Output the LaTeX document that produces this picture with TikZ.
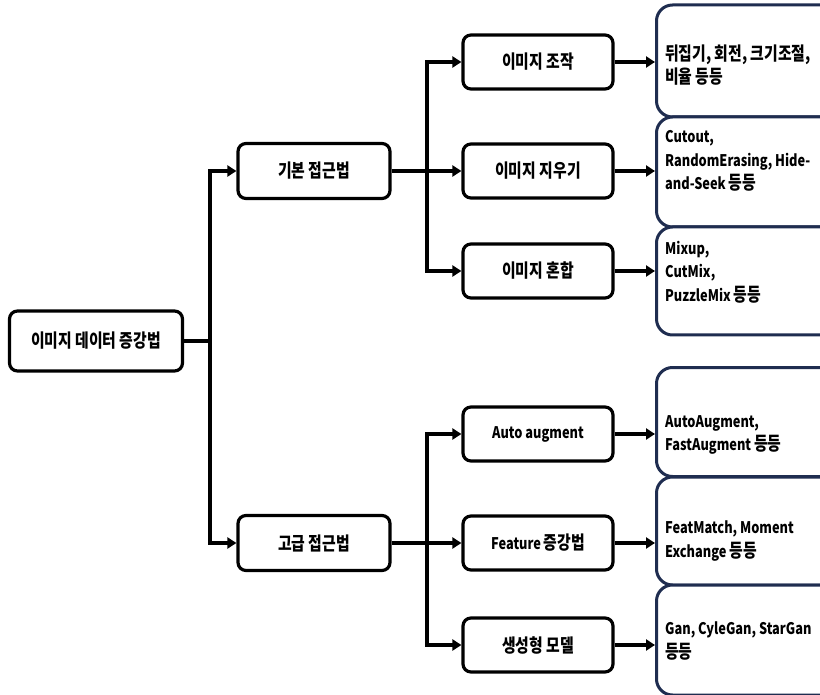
\documentclass[tikz,border=0pt]{standalone}
\usepackage{fontspec}
\setmainfont{Noto Sans CJK KR}[FakeStretch=0.8]
\newfontfamily\krfont{Noto Sans CJK KR}[FakeStretch=0.8,Scale=1.16]
\newcommand{\K}[1]{{\krfont\bfseries #1}}
\usetikzlibrary{arrows.meta}
\definecolor{navy}{RGB}{31,45,80}
\begin{document}
\begin{tikzpicture}[x=1pt,y=-1pt,
  box/.style={draw=black,line width=3.2pt,rounded corners=8pt,fill=white,font=\bfseries\fontsize{16}{20}\selectfont,inner sep=0pt},
  midbox/.style={box,minimum width=150pt,minimum height=54pt},
  outbox/.style={draw=navy,line width=3pt,rounded corners=16pt,fill=white,minimum width=180pt,inner sep=0pt,anchor=west},
  outtext/.style={anchor=west,align=left,inner sep=0pt,font=\bfseries\fontsize{16}{23.5}\selectfont},
  conn/.style={line width=3.2pt},
  arr/.style={conn,-{Triangle[length=9pt,width=11pt]}}]
\useasboundingbox (0,0) rectangle (820,695);
\clip (0,0) rectangle (820,695);
% root and level 1
\node[box,minimum width=173pt,minimum height=60pt] (root) at (96,341) {\K{이미지 데이터 증강법}};
\node[box,minimum width=152pt,minimum height=55pt] (basic) at (314,171) {\K{기본 접근법}};
\node[box,minimum width=152pt,minimum height=55pt] (adv) at (314,543) {\K{고급 접근법}};
% level 2
\node[midbox] (m1) at (538,62) {\K{이미지 조작}};
\node[midbox] (m2) at (538,171) {\K{이미지 지우기}};
\node[midbox] (m3) at (538,271) {\K{이미지 혼합}};
\node[midbox] (m4) at (538,434) {Auto augment};
\node[midbox] (m5) at (538,543) {Feature \K{증강법}};
\node[midbox] (m6) at (538,645) {\K{생성형 모델}};
% level 3 boxes
\node[outbox,minimum height=112pt] (o1) at (655,61) {};
\node[outbox,minimum height=110pt] (o2) at (655,172) {};
\node[outbox,minimum height=108pt] (o3) at (655,281) {};
\node[outbox,minimum height=109pt] (o4) at (655,422) {};
\node[outbox,minimum height=108pt] (o5) at (655,531) {};
\node[outbox,minimum height=110pt] (o6) at (655,640) {};
% level 3 texts
\node[outtext] (t1) at (665,65) {\K{뒤집기, 회전, 크기조절,}\\\K{비율 등등}};
\node[outtext] (t2) at (665,161) {Cutout,\\RandomErasing, Hide-\\and-Seek \K{등등}};
\node[outtext] (t3) at (665,272) {Mixup,\\CutMix,\\PuzzleMix \K{등등}};
\node[outtext] (t4) at (665,435) {AutoAugment,\\FastAugment \K{등등}};
\node[outtext] (t5) at (665,541) {FeatMatch, Moment\\Exchange \K{등등}};
\node[outtext] (t6) at (665,641) {Gan, CyleGan, StarGan\\\K{등등}};
% junction coordinates
\coordinate (j0) at (210,341);
\coordinate (j1) at (427,171);
\coordinate (j2) at (427,543);
% connectors
\draw[conn] (root.east) -- (j0);
\draw[arr] (j0) |- (basic.west);
\draw[arr] (j0) |- (adv.west);
\draw[conn] (basic.east) -- (j1);
\draw[arr] (j1) |- (m1.west);
\draw[arr] (j1) -- (m2.west);
\draw[arr] (j1) |- (m3.west);
\draw[conn] (adv.east) -- (j2);
\draw[arr] (j2) |- (m4.west);
\draw[arr] (j2) -- (m5.west);
\draw[arr] (j2) |- (m6.west);
\draw[arr] (m1.east) -- (m1.east -| o1.west);
\draw[arr] (m2.east) -- (m2.east -| o2.west);
\draw[arr] (m3.east) -- (m3.east -| o3.west);
\draw[arr] (m4.east) -- (m4.east -| o4.west);
\draw[arr] (m5.east) -- (m5.east -| o5.west);
\draw[arr] (m6.east) -- (m6.east -| o6.west);
\end{tikzpicture}
\end{document}
